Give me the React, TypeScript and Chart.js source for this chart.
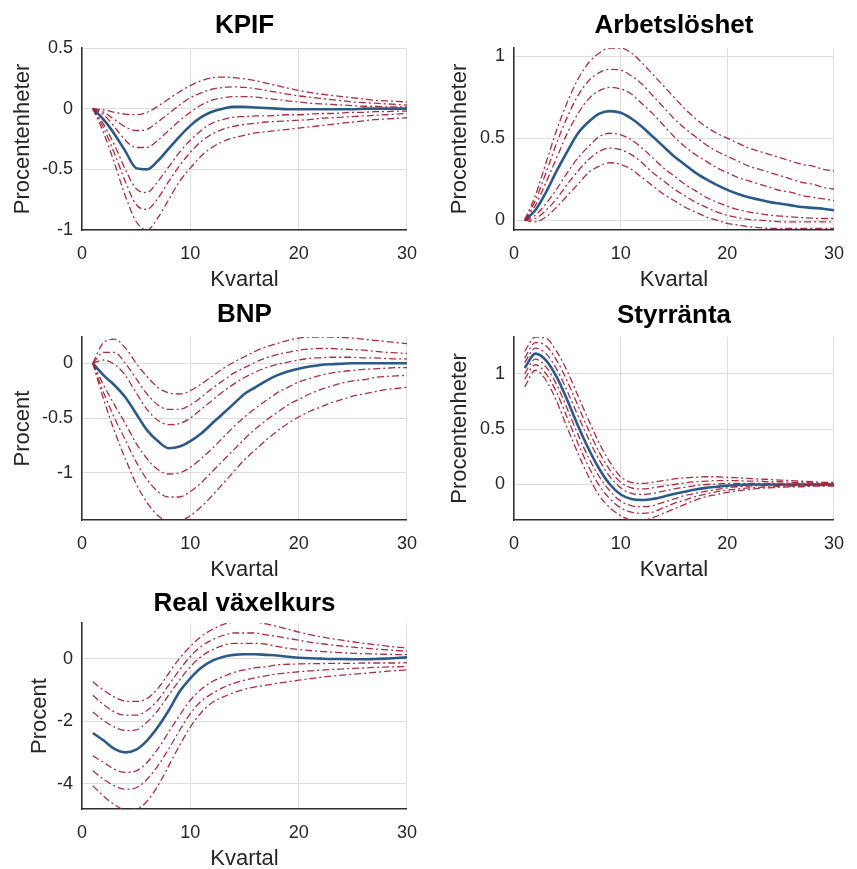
import React, { useEffect, useRef } from "react";
import { Chart, registerables } from "chart.js";

Chart.register(...registerables);

// ---------- data ----------
const QUARTERS = [1, 2, 3, 4, 5, 6, 7, 8, 9, 10, 11, 12, 13, 14, 15, 16, 17, 18, 19, 20, 21, 22, 23, 24, 25, 26, 27, 28, 29, 30];
const X_TICKS = [0, 10, 20, 30];

// KPIF
const KPIF_Y_TICKS = [-1, -0.5, 0, 0.5];
const KPIF_MEDIAN = [0, -0.09, -0.21, -0.35, -0.49, -0.5, -0.43, -0.33, -0.23, -0.14, -0.07, -0.025, 0, 0.015, 0.015, 0.01, 0.005, 0, -0.005, -0.005, -0.005, -0.005, -0.005, -0.005, -0.005, 0, 0, 0, 0, 0];
const KPIF_U3 = [0, -0.01, -0.03, -0.045, -0.05, -0.03, 0.02, 0.08, 0.14, 0.19, 0.23, 0.255, 0.26, 0.255, 0.245, 0.23, 0.21, 0.19, 0.17, 0.15, 0.135, 0.12, 0.11, 0.1, 0.09, 0.08, 0.07, 0.065, 0.06, 0.055];
const KPIF_U2 = [0, -0.03, -0.09, -0.15, -0.18, -0.17, -0.11, -0.04, 0.03, 0.09, 0.13, 0.16, 0.175, 0.18, 0.175, 0.165, 0.15, 0.135, 0.12, 0.105, 0.095, 0.085, 0.075, 0.065, 0.055, 0.05, 0.045, 0.04, 0.035, 0.03];
const KPIF_U1 = [0, -0.05, -0.15, -0.26, -0.32, -0.32, -0.26, -0.18, -0.1, -0.03, 0.03, 0.07, 0.09, 0.1, 0.1, 0.095, 0.085, 0.075, 0.065, 0.055, 0.045, 0.04, 0.035, 0.03, 0.025, 0.02, 0.02, 0.015, 0.015, 0.015];
const KPIF_L1 = [0, -0.13, -0.3, -0.5, -0.66, -0.69, -0.6, -0.48, -0.36, -0.26, -0.18, -0.12, -0.09, -0.07, -0.065, -0.06, -0.06, -0.055, -0.05, -0.05, -0.045, -0.04, -0.04, -0.035, -0.03, -0.03, -0.025, -0.025, -0.02, -0.02];
const KPIF_L2 = [0, -0.16, -0.37, -0.6, -0.79, -0.83, -0.74, -0.6, -0.47, -0.36, -0.27, -0.21, -0.17, -0.145, -0.13, -0.12, -0.11, -0.105, -0.1, -0.095, -0.09, -0.08, -0.075, -0.07, -0.065, -0.06, -0.055, -0.05, -0.045, -0.04];
const KPIF_L3 = [0, -0.2, -0.45, -0.72, -0.93, -1.0, -0.9, -0.75, -0.6, -0.49, -0.39, -0.32, -0.27, -0.24, -0.22, -0.2, -0.19, -0.18, -0.17, -0.16, -0.15, -0.14, -0.13, -0.12, -0.11, -0.1, -0.09, -0.085, -0.08, -0.075];

// Arbetslöshet
const ARB_Y_TICKS = [0, 0.5, 1];
const ARB_MEDIAN = [0, 0.06, 0.17, 0.3, 0.42, 0.53, 0.6, 0.65, 0.665, 0.655, 0.62, 0.57, 0.51, 0.45, 0.39, 0.34, 0.29, 0.25, 0.215, 0.185, 0.16, 0.14, 0.125, 0.11, 0.1, 0.09, 0.08, 0.075, 0.07, 0.06];
const ARB_U3 = [0, 0.15, 0.35, 0.55, 0.72, 0.86, 0.96, 1.02, 1.05, 1.05, 1.02, 0.96, 0.89, 0.82, 0.75, 0.68, 0.62, 0.57, 0.53, 0.5, 0.47, 0.44, 0.42, 0.4, 0.38, 0.36, 0.34, 0.33, 0.31, 0.3];
const ARB_U2 = [0, 0.12, 0.29, 0.47, 0.63, 0.76, 0.85, 0.9, 0.92, 0.915, 0.88, 0.83, 0.76, 0.69, 0.62, 0.56, 0.51, 0.46, 0.42, 0.39, 0.36, 0.33, 0.31, 0.29, 0.27, 0.25, 0.23, 0.22, 0.2, 0.19];
const ARB_U1 = [0, 0.09, 0.23, 0.38, 0.53, 0.65, 0.74, 0.79, 0.81, 0.8, 0.77, 0.71, 0.65, 0.58, 0.51, 0.45, 0.4, 0.36, 0.32, 0.29, 0.26, 0.24, 0.22, 0.2, 0.18, 0.17, 0.15, 0.14, 0.13, 0.12];
const ARB_L1 = [0, 0.03, 0.1, 0.19, 0.29, 0.38, 0.45, 0.51, 0.53, 0.52, 0.49, 0.44, 0.38, 0.32, 0.27, 0.22, 0.18, 0.14, 0.11, 0.085, 0.065, 0.05, 0.04, 0.03, 0.025, 0.02, 0.015, 0.012, 0.01, 0.01];
const ARB_L2 = [0, 0.01, 0.06, 0.13, 0.22, 0.3, 0.37, 0.42, 0.44, 0.43, 0.4, 0.35, 0.29, 0.24, 0.19, 0.15, 0.11, 0.08, 0.05, 0.03, 0.015, 0.005, 0, -0.005, -0.01, -0.01, -0.01, -0.01, -0.01, -0.01];
const ARB_L3 = [0, -0.01, 0.02, 0.08, 0.15, 0.22, 0.29, 0.33, 0.35, 0.34, 0.31, 0.26, 0.21, 0.16, 0.12, 0.08, 0.05, 0.02, 0, -0.02, -0.03, -0.04, -0.045, -0.05, -0.05, -0.05, -0.05, -0.05, -0.05, -0.05];

// BNP
const BNP_Y_TICKS = [-1, -0.5, 0];
const BNP_MEDIAN = [0, -0.11, -0.2, -0.31, -0.46, -0.61, -0.71, -0.775, -0.76, -0.71, -0.64, -0.55, -0.46, -0.37, -0.28, -0.22, -0.16, -0.11, -0.075, -0.05, -0.03, -0.015, -0.008, -0.004, 0, 0, 0, 0, 0, 0];
const BNP_U3 = [0, 0.19, 0.22, 0.14, 0, -0.12, -0.22, -0.27, -0.28, -0.25, -0.19, -0.12, -0.05, 0.01, 0.06, 0.11, 0.15, 0.18, 0.21, 0.23, 0.24, 0.24, 0.24, 0.235, 0.23, 0.22, 0.21, 0.2, 0.19, 0.18];
const BNP_U2 = [0, 0.1, 0.1, 0, -0.14, -0.28, -0.38, -0.42, -0.42, -0.38, -0.31, -0.23, -0.16, -0.09, -0.04, 0.01, 0.05, 0.08, 0.1, 0.12, 0.13, 0.135, 0.135, 0.13, 0.125, 0.12, 0.11, 0.1, 0.095, 0.09];
const BNP_U1 = [0, 0.03, -0.01, -0.11, -0.27, -0.42, -0.52, -0.56, -0.55, -0.5, -0.42, -0.34, -0.26, -0.19, -0.13, -0.08, -0.04, -0.01, 0.01, 0.03, 0.045, 0.05, 0.055, 0.055, 0.055, 0.05, 0.05, 0.045, 0.04, 0.04];
const BNP_L1 = [0, -0.2, -0.38, -0.55, -0.73, -0.87, -0.97, -1.01, -1.0, -0.95, -0.87, -0.78, -0.68, -0.58, -0.49, -0.41, -0.34, -0.27, -0.22, -0.17, -0.14, -0.11, -0.09, -0.075, -0.065, -0.055, -0.05, -0.045, -0.04, -0.04];
const BNP_L2 = [0, -0.27, -0.5, -0.7, -0.9, -1.06, -1.17, -1.22, -1.22, -1.17, -1.09, -0.99, -0.89, -0.79, -0.69, -0.6, -0.52, -0.45, -0.38, -0.33, -0.28, -0.24, -0.21, -0.18, -0.16, -0.15, -0.13, -0.12, -0.115, -0.11];
const BNP_L3 = [0, -0.33, -0.62, -0.87, -1.1, -1.27, -1.39, -1.44, -1.44, -1.39, -1.31, -1.21, -1.1, -0.99, -0.88, -0.79, -0.7, -0.62, -0.55, -0.49, -0.44, -0.4, -0.36, -0.33, -0.3, -0.28, -0.26, -0.24, -0.23, -0.22];

// Styrränta
const STYR_Y_TICKS = [0, 0.5, 1];
const STYR_MEDIAN = [1.05, 1.18, 1.12, 0.97, 0.76, 0.53, 0.32, 0.14, 0, -0.09, -0.13, -0.14, -0.13, -0.11, -0.085, -0.065, -0.045, -0.03, -0.02, -0.01, -0.005, 0, 0, 0, 0, 0, 0, 0, 0, 0];
const STYR_U3 = [1.2, 1.33, 1.32, 1.2, 1.02, 0.8, 0.58, 0.37, 0.2, 0.07, 0.02, 0.01, 0.02, 0.035, 0.05, 0.06, 0.065, 0.07, 0.07, 0.065, 0.06, 0.055, 0.05, 0.045, 0.04, 0.035, 0.03, 0.025, 0.02, 0.02];
const STYR_U2 = [1.14, 1.28, 1.25, 1.12, 0.93, 0.71, 0.49, 0.29, 0.13, 0.02, -0.03, -0.04, -0.03, -0.015, 0, 0.015, 0.025, 0.03, 0.035, 0.035, 0.035, 0.03, 0.03, 0.025, 0.025, 0.02, 0.02, 0.015, 0.015, 0.01];
const STYR_U1 = [1.1, 1.23, 1.18, 1.04, 0.84, 0.62, 0.41, 0.22, 0.07, -0.03, -0.08, -0.09, -0.08, -0.06, -0.04, -0.025, -0.01, 0, 0.005, 0.01, 0.01, 0.01, 0.01, 0.01, 0.005, 0.005, 0.005, 0.005, 0.005, 0];
const STYR_L1 = [1.0, 1.13, 1.06, 0.9, 0.68, 0.45, 0.24, 0.07, -0.06, -0.15, -0.19, -0.2, -0.19, -0.16, -0.13, -0.1, -0.08, -0.06, -0.045, -0.03, -0.02, -0.015, -0.01, -0.01, -0.005, -0.005, -0.005, 0, 0, 0];
const STYR_L2 = [0.95, 1.08, 1.0, 0.83, 0.6, 0.37, 0.16, -0.01, -0.13, -0.21, -0.25, -0.26, -0.25, -0.21, -0.17, -0.14, -0.11, -0.085, -0.065, -0.05, -0.04, -0.03, -0.025, -0.02, -0.015, -0.015, -0.01, -0.01, -0.01, -0.01];
const STYR_L3 = [0.88, 1.03, 0.94, 0.75, 0.51, 0.28, 0.07, -0.1, -0.21, -0.28, -0.32, -0.32, -0.3, -0.26, -0.22, -0.18, -0.14, -0.11, -0.09, -0.07, -0.055, -0.045, -0.035, -0.03, -0.025, -0.02, -0.02, -0.015, -0.015, -0.015];

// Real växelkurs
const REAL_Y_TICKS = [-4, -2, 0];
const REAL_MEDIAN = [-2.37, -2.61, -2.88, -2.99, -2.9, -2.61, -2.18, -1.65, -1.05, -0.62, -0.28, -0.06, 0.065, 0.13, 0.15, 0.15, 0.13, 0.11, 0.07, 0.04, 0.02, 0.01, 0, 0, -0.01, -0.01, 0, 0.01, 0.03, 0.05];
const REAL_U3 = [-0.73, -1.0, -1.22, -1.35, -1.36, -1.27, -0.95, -0.46, 0.02, 0.4, 0.72, 0.94, 1.1, 1.18, 1.2, 1.18, 1.12, 1.04, 0.95, 0.86, 0.78, 0.71, 0.65, 0.6, 0.55, 0.5, 0.46, 0.42, 0.38, 0.35];
const REAL_U2 = [-1.16, -1.46, -1.7, -1.8, -1.8, -1.65, -1.32, -0.84, -0.35, 0.08, 0.4, 0.61, 0.75, 0.83, 0.83, 0.83, 0.77, 0.72, 0.66, 0.6, 0.54, 0.49, 0.45, 0.41, 0.38, 0.35, 0.32, 0.3, 0.27, 0.25];
const REAL_U1 = [-1.7, -1.97, -2.18, -2.29, -2.27, -2.02, -1.65, -1.16, -0.68, -0.25, 0.075, 0.29, 0.43, 0.5, 0.5, 0.5, 0.47, 0.4, 0.34, 0.3, 0.27, 0.24, 0.22, 0.2, 0.18, 0.17, 0.16, 0.15, 0.14, 0.14];
const REAL_L1 = [-3.1, -3.31, -3.53, -3.63, -3.58, -3.31, -2.88, -2.34, -1.81, -1.32, -0.97, -0.73, -0.57, -0.43, -0.35, -0.28, -0.25, -0.19, -0.17, -0.16, -0.15, -0.15, -0.14, -0.14, -0.14, -0.13, -0.13, -0.13, -0.13, -0.12];
const REAL_L2 = [-3.58, -3.85, -4.06, -4.17, -4.12, -3.85, -3.42, -2.88, -2.29, -1.75, -1.35, -1.11, -0.92, -0.78, -0.68, -0.6, -0.54, -0.48, -0.44, -0.41, -0.38, -0.36, -0.34, -0.32, -0.3, -0.29, -0.27, -0.26, -0.25, -0.24];
const REAL_L3 = [-4.06, -4.39, -4.66, -4.82, -4.8, -4.55, -4.06, -3.42, -2.77, -2.18, -1.72, -1.4, -1.22, -1.08, -0.97, -0.89, -0.84, -0.78, -0.73, -0.68, -0.63, -0.59, -0.55, -0.52, -0.49, -0.46, -0.43, -0.4, -0.37, -0.35];

// ---------- styles / layout ----------
const FONT = '"Liberation Sans", Arial, Helvetica, sans-serif';
const RED = "rgba(165, 35, 55, 0.95)";
const BLUE = "#2c5a88";
const GRID = "#dedede";
const AXIS = "#2e2e2e";
const TXT = "#262626";
const TICK_SIZE = 18;
const LABEL_SIZE = 22;
const TITLE_SIZE = 26;

type Panel = {
  title: string;
  yLabel: string;
  yMin: number;
  yMax: number;
  yTicks: number[];
  median: number[];
  bands: number[][];
  box: { left: number; top: number; width: number; height: number };
  area: { left: number; right: number; top: number; bottom: number };
  titleY: number;
  yTitleX: number;
  xTitleY: number;
};

const PANELS: Panel[] = [
  {
    title: "KPIF", yLabel: "Procentenheter", yMin: -1, yMax: 0.5, yTicks: KPIF_Y_TICKS,
    median: KPIF_MEDIAN, bands: [KPIF_U3, KPIF_U2, KPIF_U1, KPIF_L1, KPIF_L2, KPIF_L3],
    box: { left: 0, top: 0, width: 430, height: 300 },
    area: { left: 82, right: 409, top: 48, bottom: 230 },
    titleY: 26, yTitleX: 23, xTitleY: 280,
  },
  {
    title: "Arbetslöshet", yLabel: "Procentenheter", yMin: -0.06, yMax: 1.05, yTicks: ARB_Y_TICKS,
    median: ARB_MEDIAN, bands: [ARB_U3, ARB_U2, ARB_U1, ARB_L1, ARB_L2, ARB_L3],
    box: { left: 430, top: 0, width: 427, height: 300 },
    area: { left: 84, right: 413, top: 48, bottom: 230 },
    titleY: 26, yTitleX: 30, xTitleY: 280,
  },
  {
    title: "BNP", yLabel: "Procent", yMin: -1.43, yMax: 0.24, yTicks: BNP_Y_TICKS,
    median: BNP_MEDIAN, bands: [BNP_U3, BNP_U2, BNP_U1, BNP_L1, BNP_L2, BNP_L3],
    box: { left: 0, top: 290, width: 430, height: 300 },
    area: { left: 82, right: 409, top: 47, bottom: 230 },
    titleY: 25, yTitleX: 23, xTitleY: 280,
  },
  {
    title: "Styrränta", yLabel: "Procentenheter", yMin: -0.32, yMax: 1.33, yTicks: STYR_Y_TICKS,
    median: STYR_MEDIAN, bands: [STYR_U3, STYR_U2, STYR_U1, STYR_L1, STYR_L2, STYR_L3],
    box: { left: 430, top: 290, width: 427, height: 300 },
    area: { left: 84, right: 413, top: 47, bottom: 230 },
    titleY: 26, yTitleX: 30, xTitleY: 280,
  },
  {
    title: "Real växelkurs", yLabel: "Procent", yMin: -4.8, yMax: 1.15, yTicks: REAL_Y_TICKS,
    median: REAL_MEDIAN, bands: [REAL_U3, REAL_U2, REAL_U1, REAL_L1, REAL_L2, REAL_L3],
    box: { left: 0, top: 580, width: 430, height: 289 },
    area: { left: 82, right: 409, top: 43, bottom: 229 },
    titleY: 23.5, yTitleX: 40, xTitleY: 279,
  },
];

const panelTitlePlugin = {
  id: "panelTitle",
  afterDraw(chart: any, _args: any, opts: any) {
    const { ctx, chartArea } = chart;
    ctx.save();
    ctx.font = `bold ${TITLE_SIZE}px ${FONT}`;
    ctx.fillStyle = "#000";
    ctx.textAlign = "center";
    ctx.textBaseline = "middle";
    ctx.fillText(opts.text, (chartArea.left + chartArea.right) / 2, opts.y);
    ctx.restore();
  },
};

function PanelChart({ panel }: { panel: Panel }) {
  const ref = useRef<HTMLCanvasElement>(null);

  useEffect(() => {
    const { box, area } = panel;
    const halfLine = (LABEL_SIZE * 1.2) / 2;
    const xTitlePadBottom = box.height - halfLine - panel.xTitleY;
    const yTitlePadTop = panel.yTitleX - halfLine;

    const toPoints = (arr: number[]) => QUARTERS.map((q, i) => ({ x: q, y: arr[i] }));

    const bandSets = panel.bands.map((b) => ({
      data: toPoints(b),
      borderColor: RED,
      borderWidth: 1.3,
      borderDash: [7, 3, 2, 3],
      pointRadius: 0,
      cubicInterpolationMode: "monotone" as const,
      clip: 0,
    }));
    const medianSet = {
      data: toPoints(panel.median),
      borderColor: BLUE,
      borderWidth: 2.6,
      pointRadius: 0,
      cubicInterpolationMode: "monotone" as const,
      clip: 0,
    };

    const chart = new Chart(ref.current as HTMLCanvasElement, {
      type: "line",
      data: { datasets: [...bandSets, medianSet] as any },
      plugins: [panelTitlePlugin as any],
      options: {
        responsive: false,
        animation: false,
        events: [],
        layout: {
          padding: { left: 0, top: area.top, right: box.width - area.right, bottom: 0 },
        },
        plugins: {
          legend: { display: false },
          tooltip: { enabled: false },
          title: { display: false },
          panelTitle: { text: panel.title, y: panel.titleY },
        } as any,
        scales: {
          x: {
            type: "linear",
            min: 0,
            max: 30,
            afterBuildTicks: (s: any) => {
              s.ticks = X_TICKS.map((v) => ({ value: v }));
            },
            afterFit: (s: any) => {
              s.height = box.height - area.bottom;
            },
            grid: { color: GRID, lineWidth: 1, drawTicks: false },
            border: { display: true, color: AXIS, width: 1.5 },
            ticks: {
              font: { size: TICK_SIZE, family: FONT },
              color: TXT,
              padding: 13,
              maxRotation: 0,
              autoSkip: false,
              callback: (v: any) => String(v),
            },
            title: {
              display: true,
              text: "Kvartal",
              color: TXT,
              font: { size: LABEL_SIZE, family: FONT, lineHeight: 1.2 },
              padding: { top: 0, bottom: xTitlePadBottom },
            },
          },
          y: {
            type: "linear",
            min: panel.yMin,
            max: panel.yMax,
            afterBuildTicks: (s: any) => {
              s.ticks = panel.yTicks.map((v) => ({ value: v }));
            },
            afterFit: (s: any) => {
              s.width = area.left;
            },
            grid: { color: GRID, lineWidth: 1, drawTicks: false },
            border: { display: true, color: AXIS, width: 1.5 },
            ticks: {
              font: { size: TICK_SIZE, family: FONT },
              color: TXT,
              padding: 9,
              autoSkip: false,
              callback: (v: any) => String(v),
            },
            title: {
              display: true,
              text: panel.yLabel,
              color: TXT,
              font: { size: LABEL_SIZE, family: FONT, lineHeight: 1.2 },
              padding: { top: yTitlePadTop, bottom: 0 },
            },
          },
        },
      } as any,
    });
    return () => chart.destroy();
  }, [panel]);

  const { box } = panel;
  return (
    <canvas
      ref={ref}
      width={box.width}
      height={box.height}
      style={{ position: "absolute", left: box.left, top: box.top, width: box.width, height: box.height }}
    />
  );
}

export default function App() {
  return (
    <div
      style={{
        position: "fixed",
        left: 0,
        top: 0,
        width: 857,
        height: 869,
        background: "#ffffff",
        overflow: "hidden",
      }}
    >
      {PANELS.map((p) => (
        <PanelChart key={p.title} panel={p} />
      ))}
    </div>
  );
}
